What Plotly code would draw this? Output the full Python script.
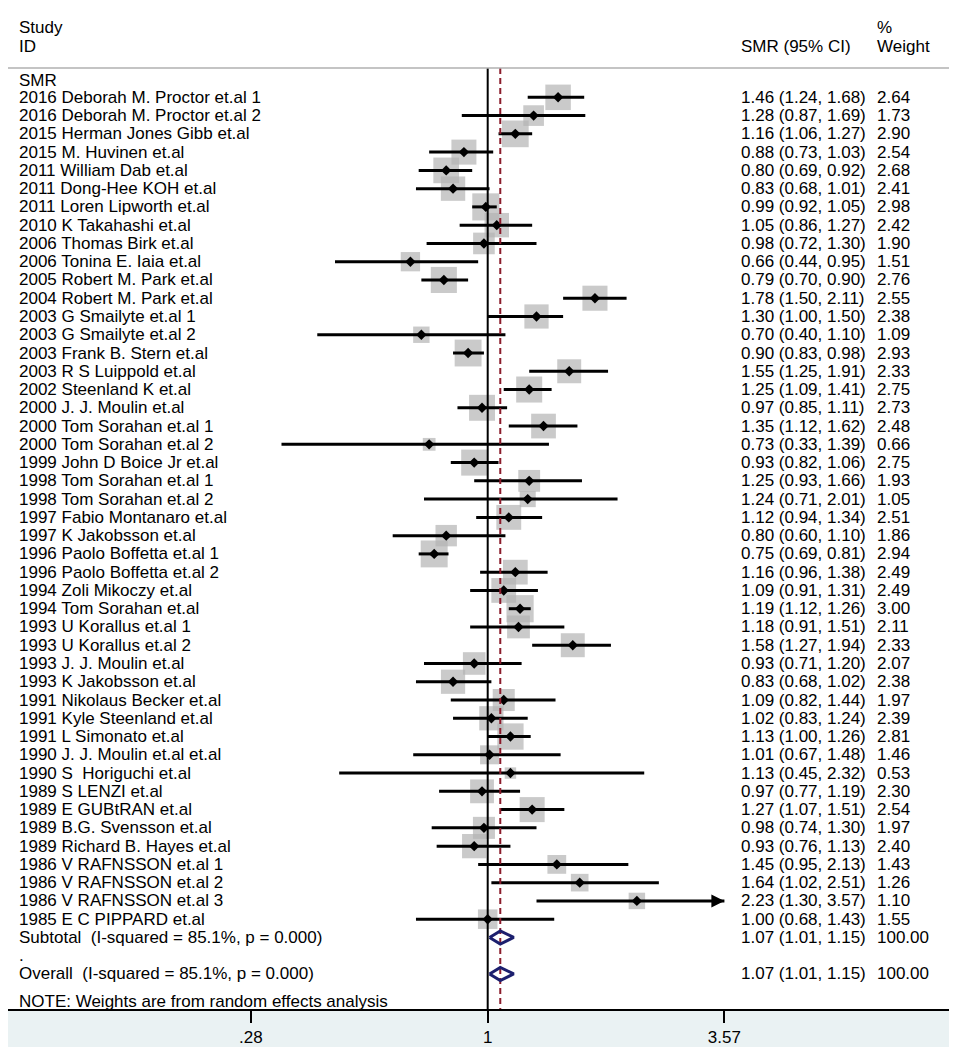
import numpy as np
import plotly.graph_objects as go

# --- data ---
studies = [
    "2016 Deborah M. Proctor et.al 1", "2016 Deborah M. Proctor et.al 2",
    "2015 Herman Jones Gibb et.al", "2015 M. Huvinen et.al",
    "2011 William Dab et.al", "2011 Dong-Hee KOH et.al",
    "2011 Loren Lipworth et.al", "2010 K Takahashi et.al",
    "2006 Thomas Birk et.al", "2006 Tonina E. Iaia et.al",
    "2005 Robert M. Park et.al", "2004 Robert M. Park et.al",
    "2003 G Smailyte et.al 1", "2003 G Smailyte et.al 2",
    "2003 Frank B. Stern et.al", "2003 R S Luippold et.al",
    "2002 Steenland K et.al", "2000 J. J. Moulin et.al",
    "2000 Tom Sorahan et.al 1", "2000 Tom Sorahan et.al 2",
    "1999 John D Boice Jr et.al", "1998 Tom Sorahan et.al 1",
    "1998 Tom Sorahan et.al 2", "1997 Fabio Montanaro et.al",
    "1997 K Jakobsson et.al", "1996 Paolo Boffetta et.al 1",
    "1996 Paolo Boffetta et.al 2", "1994 Zoli Mikoczy et.al",
    "1994 Tom Sorahan et.al", "1993 U Korallus et.al 1",
    "1993 U Korallus et.al 2", "1993 J. J. Moulin et.al",
    "1993 K Jakobsson et.al", "1991 Nikolaus Becker et.al",
    "1991 Kyle Steenland et.al", "1991 L Simonato et.al",
    "1990 J. J. Moulin et.al et.al", "1990 S  Horiguchi et.al",
    "1989 S LENZI et.al", "1989 E GUBtRAN et.al",
    "1989 B.G. Svensson et.al", "1989 Richard B. Hayes et.al",
    "1986 V RAFNSSON et.al 1", "1986 V RAFNSSON et.al 2",
    "1986 V RAFNSSON et.al 3", "1985 E C PIPPARD et.al",
]
smr = [1.46, 1.28, 1.16, 0.88, 0.80, 0.83, 0.99, 1.05, 0.98, 0.66,
       0.79, 1.78, 1.30, 0.70, 0.90, 1.55, 1.25, 0.97, 1.35, 0.73,
       0.93, 1.25, 1.24, 1.12, 0.80, 0.75, 1.16, 1.09, 1.19, 1.18,
       1.58, 0.93, 0.83, 1.09, 1.02, 1.13, 1.01, 1.13, 0.97, 1.27,
       0.98, 0.93, 1.45, 1.64, 2.23, 1.00]
ci_low = [1.24, 0.87, 1.06, 0.73, 0.69, 0.68, 0.92, 0.86, 0.72, 0.44,
          0.70, 1.50, 1.00, 0.40, 0.83, 1.25, 1.09, 0.85, 1.12, 0.33,
          0.82, 0.93, 0.71, 0.94, 0.60, 0.69, 0.96, 0.91, 1.12, 0.91,
          1.27, 0.71, 0.68, 0.82, 0.83, 1.00, 0.67, 0.45, 0.77, 1.07,
          0.74, 0.76, 0.95, 1.02, 1.30, 0.68]
ci_high = [1.68, 1.69, 1.27, 1.03, 0.92, 1.01, 1.05, 1.27, 1.30, 0.95,
           0.90, 2.11, 1.50, 1.10, 0.98, 1.91, 1.41, 1.11, 1.62, 1.39,
           1.06, 1.66, 2.01, 1.34, 1.10, 0.81, 1.38, 1.31, 1.26, 1.51,
           1.94, 1.20, 1.02, 1.44, 1.24, 1.26, 1.48, 2.32, 1.19, 1.51,
           1.30, 1.13, 2.13, 2.51, 3.57, 1.43]
weights = [2.64, 1.73, 2.90, 2.54, 2.68, 2.41, 2.98, 2.42, 1.90, 1.51,
           2.76, 2.55, 2.38, 1.09, 2.93, 2.33, 2.75, 2.73, 2.48, 0.66,
           2.75, 1.93, 1.05, 2.51, 1.86, 2.94, 2.49, 2.49, 3.00, 2.11,
           2.33, 2.07, 2.38, 1.97, 2.39, 2.81, 1.46, 0.53, 2.30, 2.54,
           1.97, 2.40, 1.43, 1.26, 1.10, 1.55]
pooled = [1.07, 1.01, 1.15]
i_squared = 85.1
p_value = 0.000
total_weight = "100.00"
tick_vals = [0.28, 1, 3.57]
tick_text = [".28", "1", "3.57"]

# --- page geometry, in pixels of the browser window ---
OFF = 8                        # page body margin around the figure
VW, VH = 957, 1047
PLOT_L, PLOT_R, PLOT_T, PLOT_B = 8, 949, 8, 1011
ROW0, ROWH = 97.5, 18.3        # pixel of first study row, row height
X1, PPL = 487.7, 186.0         # pixel of x=1, pixels per ln unit
FONT = "Arial, 'Liberation Sans', sans-serif"
FS = 17

W, H = VW - OFF, VH - OFF
ML, MR = PLOT_L - OFF, W - (PLOT_R - OFF)
MT, MB = PLOT_T - OFF, H - (PLOT_B - OFF)

n = len(studies)
rows = np.arange(1, n + 1)
r_sub, r_dot, r_all, r_note = n + 1, n + 2, n + 3, n + 4.48
r_head1, r_head2, r_line, r_smr = -2.8, -1.8, -0.61, 0.1


def px_row(p):
    return 1 + (p - ROW0) / ROWH


def paper_x(p):
    return (p - PLOT_L) / (PLOT_R - PLOT_L)


x_range = [(PLOT_L - X1) / PPL / np.log(10), (PLOT_R - X1) / PPL / np.log(10)]
y_range = [px_row(PLOT_B), px_row(PLOT_T)]

fig = go.Figure()

# weight boxes
fig.add_trace(go.Scatter(
    x=smr, y=rows, mode="markers",
    marker=dict(symbol="square", size=15.7 * np.sqrt(weights),
                color="#b4b4b4", line=dict(width=0)),
    hoverinfo="skip"))

# confidence intervals
cx, cy = [], []
for lo, hi, r in zip(ci_low, ci_high, rows):
    cx += [lo, hi, None]
    cy += [r, r, None]
fig.add_trace(go.Scatter(x=cx, y=cy, mode="lines",
                         line=dict(color="black", width=3), hoverinfo="skip"))

# arrow for the interval that runs past the axis end
clip = [i for i, hi in enumerate(ci_high) if hi >= max(tick_vals)]
fig.add_trace(go.Scatter(
    x=[ci_high[i] for i in clip], y=[rows[i] for i in clip], mode="markers",
    marker=dict(symbol="arrow-right", size=13, color="black"),
    hoverinfo="skip"))

# point estimates
fig.add_trace(go.Scatter(
    x=smr, y=rows, mode="markers",
    marker=dict(symbol="diamond", size=8, color="black"),
    hoverinfo="skip"))

# null line and pooled estimate line
fig.add_trace(go.Scatter(x=[1, 1], y=[r_line, y_range[0]], mode="lines",
                         line=dict(color="black", width=2), hoverinfo="skip"))
fig.add_trace(go.Scatter(x=[pooled[0], pooled[0]], y=[r_line, y_range[0]],
                         mode="lines",
                         line=dict(color="#8c1c2c", width=2, dash="6px,4px"),
                         hoverinfo="skip"))

# pooled diamonds
for r in (r_sub, r_all):
    fig.add_trace(go.Scatter(
        x=[pooled[1], pooled[0], pooled[2], pooled[0], pooled[1]],
        y=[r, r - 0.36, r, r + 0.36, r], mode="lines",
        line=dict(color="#1c1f6e", width=3), hoverinfo="skip"))

# header separator
fig.add_shape(type="line", xref="paper", yref="y", x0=0, x1=1,
              y0=r_line, y1=r_line, line=dict(color="#b0b0b0", width=1.5))

# --- text columns ---
ann = []


def txt(s, xp, r, anchor="left"):
    ann.append(dict(text=s, x=paper_x(xp), y=r, xref="paper", yref="y",
                    xanchor=anchor, yanchor="middle", showarrow=False,
                    font=dict(family=FONT, size=FS, color="black")))


COL_ID, COL_CI, COL_W = 17, 739, 875
txt("Study", COL_ID, r_head1)
txt("ID", COL_ID, r_head2)
txt("SMR (95% CI)", COL_CI, r_head2)
txt("%", COL_W, r_head1)
txt("Weight", COL_W, r_head2)
txt("SMR", COL_ID, r_smr)
for r, name, e, lo, hi, w in zip(rows, studies, smr, ci_low, ci_high, weights):
    txt(name, COL_ID, r)
    txt(f"{e:.2f} ({lo:.2f}, {hi:.2f})", COL_CI, r)
    txt(f"{w:.2f}", COL_W, r)
stat = f"(I-squared = {i_squared:.1f}%, p = {p_value:.3f})"
pooled_txt = f"{pooled[0]:.2f} ({pooled[1]:.2f}, {pooled[2]:.2f})"
txt("Subtotal  " + stat, COL_ID, r_sub)
txt(pooled_txt, COL_CI, r_sub)
txt(total_weight, COL_W, r_sub)
txt(".", COL_ID, r_dot)
txt("Overall  " + stat, COL_ID, r_all)
txt(pooled_txt, COL_CI, r_all)
txt(total_weight, COL_W, r_all)
txt("NOTE: Weights are from random effects analysis", COL_ID, r_note)

fig.update_layout(
    width=W, height=H,
    margin=dict(l=ML, r=MR, t=MT, b=MB, pad=0),
    paper_bgcolor="#eaf2f3", plot_bgcolor="white",
    showlegend=False, annotations=ann,
    font=dict(family=FONT, size=FS, color="black"),
    xaxis=dict(type="log", range=x_range, tickvals=tick_vals,
               ticktext=tick_text, ticks="outside", ticklen=12, tickwidth=2,
               tickcolor="black", showline=True, linecolor="black",
               linewidth=1.5, showgrid=False, zeroline=False,
               tickfont=dict(family=FONT, size=FS, color="black"),
               fixedrange=True),
    yaxis=dict(range=y_range, visible=False, fixedrange=True),
)

fig.write_html("out.html")
